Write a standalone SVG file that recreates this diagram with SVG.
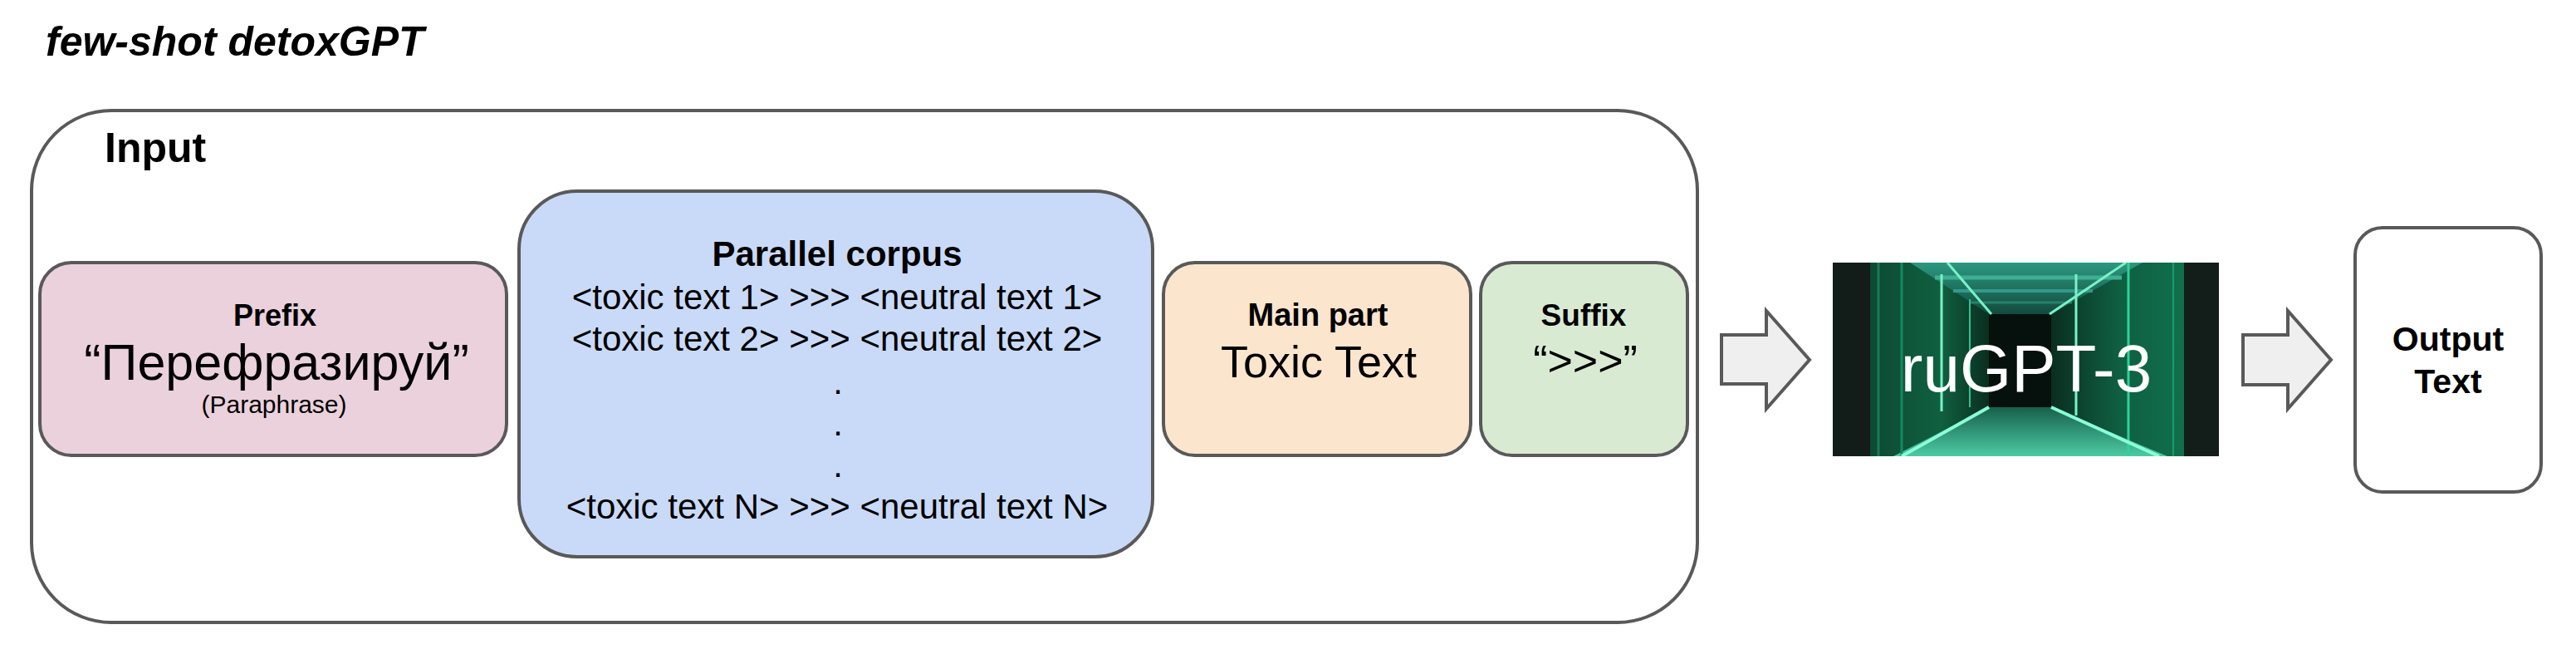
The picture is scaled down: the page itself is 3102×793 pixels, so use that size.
<svg xmlns="http://www.w3.org/2000/svg" width="3102" height="793" viewBox="0 0 3102 793">
<style>
.box{stroke:#595959;stroke-width:4}
.t{font-family:"Liberation Sans",Arial,sans-serif;fill:#000;text-anchor:middle}
.b{font-weight:bold}
.arrow{fill:#efefef;stroke:#595959;stroke-width:4;stroke-linejoin:miter}
.glow{stroke:#78f2c6;fill:none}
</style>
<defs>
<clipPath id="imgclip"><rect x="2207" y="316" width="465" height="233"/></clipPath>
<linearGradient id="lrack" x1="0" y1="0" x2="1" y2="0">
<stop offset="0" stop-color="#0d4a35"/><stop offset="0.6" stop-color="#10603f"/><stop offset="1" stop-color="#0a2e20"/>
</linearGradient>
<linearGradient id="rrack" x1="0" y1="0" x2="1" y2="0">
<stop offset="0" stop-color="#0a2e20"/><stop offset="0.5" stop-color="#0f5e42"/><stop offset="1" stop-color="#10704c"/>
</linearGradient>
<linearGradient id="floor" x1="0" y1="0" x2="0" y2="1">
<stop offset="0" stop-color="#17604c"/><stop offset="1" stop-color="#4ccaa2"/>
</linearGradient>
<linearGradient id="ceil" x1="0" y1="0" x2="0" y2="1">
<stop offset="0" stop-color="#2c9880"/><stop offset="1" stop-color="#124a3e"/>
</linearGradient>
</defs>
<rect width="3102" height="793" fill="#fff"/>

<g id="title">
<text x="55" y="67" class="t b" style="text-anchor:start;font-style:italic" font-size="50">few-shot detoxGPT</text>
</g>

<g id="input">
<rect class="box" x="38" y="133" width="2006" height="616" rx="96" ry="96" fill="#fff"/>
<text x="126" y="195" class="t b" style="text-anchor:start" font-size="50">Input</text>
</g>

<g id="prefix">
<rect class="box" x="48" y="316" width="562" height="232" rx="38" ry="38" fill="#ead1dc"/>
<text x="331" y="392" class="t b" font-size="36">Prefix</text>
<text x="333" y="457" class="t" font-size="61">“Перефразируй”</text>
<text x="330" y="497" class="t" font-size="30">(Paraphrase)</text>
</g>

<g id="corpus">
<rect class="box" x="625" y="230" width="763" height="440" rx="70" ry="70" fill="#c9daf8"/>
<text x="1008" y="320" class="t b" font-size="42">Parallel corpus</text>
<text x="1008" y="372" class="t" font-size="42">&lt;toxic text 1&gt; &gt;&gt;&gt; &lt;neutral text 1&gt;</text>
<text x="1008" y="422" class="t" font-size="42">&lt;toxic text 2&gt; &gt;&gt;&gt; &lt;neutral text 2&gt;</text>
<text x="1009" y="474" class="t" font-size="42">.</text>
<text x="1009" y="524" class="t" font-size="42">.</text>
<text x="1009" y="574" class="t" font-size="42">.</text>
<text x="1008" y="624" class="t" font-size="42">&lt;toxic text N&gt; &gt;&gt;&gt; &lt;neutral text N&gt;</text>
</g>

<g id="mainpart">
<rect class="box" x="1401" y="316" width="370" height="232" rx="38" ry="38" fill="#fce5cd"/>
<text x="1587" y="392" class="t b" font-size="38">Main part</text>
<text x="1588" y="454" class="t" font-size="54">Toxic Text</text>
</g>

<g id="suffix">
<rect class="box" x="1783" y="316" width="249" height="232" rx="38" ry="38" fill="#d9ead3"/>
<text x="1907" y="392" class="t b" font-size="37">Suffix</text>
<text x="1909" y="452" class="t" font-size="52">“&gt;&gt;&gt;”</text>
</g>

<g id="rugpt3">
<g clip-path="url(#imgclip)">
<rect x="2207" y="316" width="465" height="233" fill="#0a1d16"/>
<rect x="2207" y="316" width="45" height="233" fill="#121c18"/>
<rect x="2252" y="316" width="143" height="233" fill="url(#lrack)"/>
<rect x="2470" y="316" width="160" height="233" fill="url(#rrack)"/>
<rect x="2630" y="316" width="42" height="233" fill="#131d19"/>
<polygon points="2300,316 2580,316 2470,378 2395,378" fill="url(#ceil)"/>
<line x1="2330" y1="334" x2="2555" y2="334" stroke="#3fae94" stroke-width="5"/>
<line x1="2352" y1="350" x2="2520" y2="350" stroke="#34998a" stroke-width="4"/>
<line x1="2372" y1="364" x2="2495" y2="364" stroke="#2a806c" stroke-width="3"/>
<rect x="2395" y="378" width="75" height="112" fill="#06100c"/>
<polygon points="2395,490 2470,490 2610,549 2280,549" fill="url(#floor)"/>
<line x1="2262" y1="316" x2="2262" y2="549" stroke="#1a7a57" stroke-width="3"/>
<line x1="2290" y1="316" x2="2290" y2="549" stroke="#138a62" stroke-width="3"/>
<line x1="2338" y1="330" x2="2338" y2="495" class="glow" stroke-width="3"/>
<line x1="2372" y1="360" x2="2372" y2="490" stroke="#2fc08f" stroke-width="2"/>
<line x1="2500" y1="330" x2="2500" y2="500" class="glow" stroke-width="3"/>
<line x1="2563" y1="316" x2="2563" y2="549" stroke="#2ed39a" stroke-width="3"/>
<line x1="2617" y1="316" x2="2617" y2="549" stroke="#1a9a6c" stroke-width="2"/>
<line x1="2345" y1="316" x2="2398" y2="378" class="glow" stroke-width="3"/>
<line x1="2560" y1="316" x2="2468" y2="378" class="glow" stroke-width="3"/>
<line x1="2395" y1="490" x2="2290" y2="549" stroke="#8affd8" stroke-width="4"/>
<line x1="2470" y1="490" x2="2600" y2="549" stroke="#8affd8" stroke-width="4"/>
</g>
<text x="2440" y="471" class="t" font-size="80" style="fill:#fff">ruGPT-3</text>
</g>

<g id="output">
<rect class="box" x="2836" y="274" width="224" height="318" rx="33" ry="33" fill="#fff"/>
<text x="2948" y="422" class="t b" font-size="41">Output</text>
<text x="2948" y="473" class="t b" font-size="41">Text</text>
</g>

<g id="connectors">
<polygon class="arrow" points="2073,403 2127,403 2127,374 2179,433 2127,492 2127,462 2073,462"/>
<polygon class="arrow" points="2701,403 2755,403 2755,374 2807,433 2755,492 2755,463 2701,463"/>
</g>
</svg>
